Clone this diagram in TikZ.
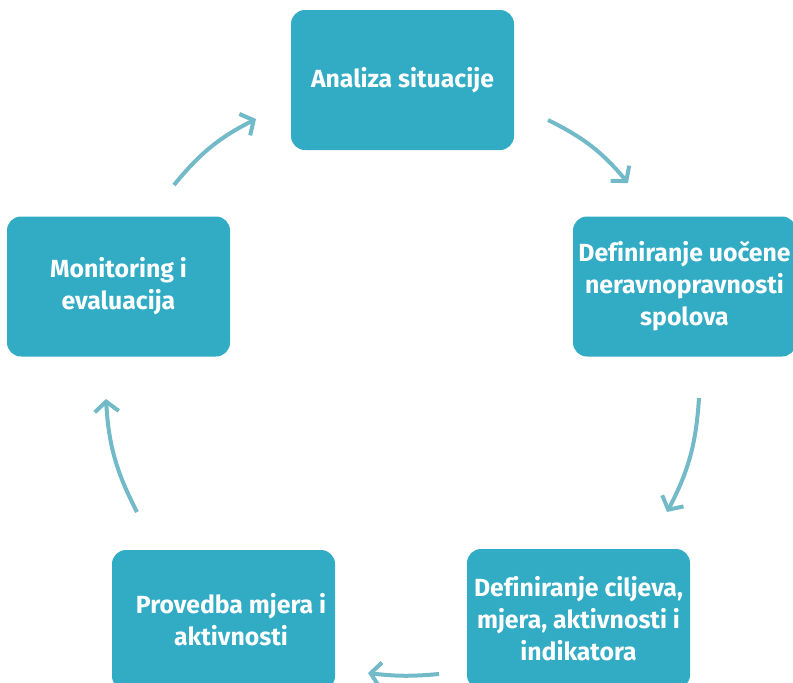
\documentclass[tikz,border=0pt]{standalone}
\usepackage{fontspec}
\setmainfont{Fira Sans}[Ligatures=NoCommon]
\usetikzlibrary{arrows.meta}
\definecolor{boxc}{HTML}{31ACC4}
\definecolor{arrc}{HTML}{73BAC9}
\tikzset{
  box/.style={fill=boxc, draw=none, rounded corners=14pt, minimum width=223pt, minimum height=140pt,
    inner sep=0pt, text=white, align=center, font=\bfseries\fontsize{24.8}{32}\selectfont},
  cyc/.style={draw=arrc, line width=4pt, -{Straight Barb[length=10pt,width=24pt,line width=4pt]}}
}
\begin{document}
\begin{tikzpicture}[x=1pt,y=-1pt]
\useasboundingbox (0,0) rectangle (793,683);
\clip (0,0) rectangle (793,683);
\node[box] (b1) at (402.5,80) {Analiza situacije};
\node[box] (b2) at (684.5,286.5) {Definiranje uočene\\neravnopravnosti\\spolova};
\node[box] (b3) at (578.5,619) {Definiranje ciljeva,\\mjera, aktivnosti i\\indikatora};
\node[box] (b4) at (223.5,620) {\hspace*{15pt}Provedba mjera i\\\hspace*{15pt}aktivnosti};
\node[box] (b5) at (118.5,286.5) {Monitoring i\\evaluacija};
\coordinate (a1s) at (548,120); \coordinate (a1e) at (628,183);
\coordinate (a2s) at (699,398); \coordinate (a2e) at (667,512);
\coordinate (a3s) at (439,674); \coordinate (a3e) at (368,673);
\coordinate (a4s) at (137,512); \coordinate (a4e) at (106,399);
\coordinate (a5s) at (174,185); \coordinate (a5e) at (256,119);
\draw[cyc] (a1s) to[bend left=12] (a1e);
\draw[cyc] (a2s) to[bend left=12] (a2e);
\draw[cyc] (a3s) to[bend left=6] (a3e);
\draw[cyc] (a4s) to[bend left=12] (a4e);
\draw[cyc] (a5s) to[bend left=12] (a5e);
\end{tikzpicture}
\end{document}
